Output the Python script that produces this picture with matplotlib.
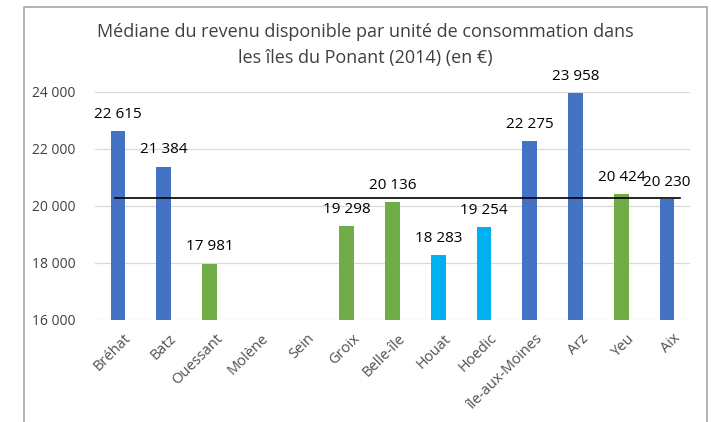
import matplotlib.pyplot as plt
import matplotlib.transforms as mtransforms
from matplotlib.patches import Rectangle

# Data
iles = ["Bréhat", "Batz", "Ouessant", "Molène", "Sein", "Groix", "Belle-île",
        "Houat", "Hoedic", "île-aux-Moines", "Arz", "Yeu", "Aix"]
revenu = [22615, 21384, 17981, None, None, 19298, 20136,
          18283, 19254, 22275, 23958, 20424, 20230]
groupe = ["bleu", "bleu", "vert", "vert", "vert", "vert", "vert",
          "ciel", "ciel", "bleu", "bleu", "vert", "bleu"]
reference = 20280

couleurs = {"bleu": "#4472C4", "vert": "#70AD47", "ciel": "#00B0F0"}

plt.rcParams['font.family'] = ['Open Sans', 'DejaVu Sans']

fig = plt.figure(figsize=(7.11, 4.22), dpi=100)
ax = fig.add_axes([95 / 711, 1 - 320 / 422, (690 - 95) / 711, (320 - 92) / 422])

for i, (v, g) in enumerate(zip(revenu, groupe)):
    if v is None:
        continue
    ax.bar(i, v - 16000, bottom=16000, width=0.32, color=couleurs[g], zorder=2)
    ax.text(i, v + 330, f"{v:,}".replace(",", " "), ha='center', va='bottom',
            fontsize=11, color='black', clip_on=False)

ax.plot([-0.06, 12.28], [reference, reference], color='black', lw=1.2, zorder=3)

ax.set_xlim(-0.5, 12.5)
ax.set_ylim(16000, 24000)
ax.set_yticks(range(16000, 24001, 2000))
ax.set_yticklabels([f"{t:,}".replace(",", " ") for t in range(16000, 24001, 2000)],
                   fontsize=10, color='#404040')
ax.set_xticks(range(len(iles)))
ax.set_xticklabels(iles, rotation=45, ha='right', va='top', rotation_mode='anchor',
                   fontsize=10.5, color='#505050')
ax.tick_params(axis='y', length=0, pad=14)
ax.tick_params(axis='x', length=0, pad=8)
decalage = mtransforms.ScaledTranslation(4 / 72, 0, fig.dpi_scale_trans)
for lab in ax.get_xticklabels():
    lab.set_transform(lab.get_transform() + decalage)
ax.grid(axis='y', color='#D9D9D9', lw=0.9, zorder=0)
for s in ax.spines.values():
    s.set_visible(False)

fig.text(365 / 711, 1 - 32 / 422, "Médiane du revenu disponible par unité de consommation dans",
         ha='center', va='center', fontsize=13, color='#404040')
fig.text(365 / 711, 1 - 58 / 422, "les îles du Ponant (2014) (en €)",
         ha='center', va='center', fontsize=13, color='#404040')

fig.patches.append(Rectangle((24 / 711, -0.05), (707 - 24) / 711, 1.05 - 7 / 422,
                             transform=fig.transFigure, fill=False,
                             edgecolor='#A6A6A6', lw=1.2))

fig.savefig("out.png", dpi=100)
